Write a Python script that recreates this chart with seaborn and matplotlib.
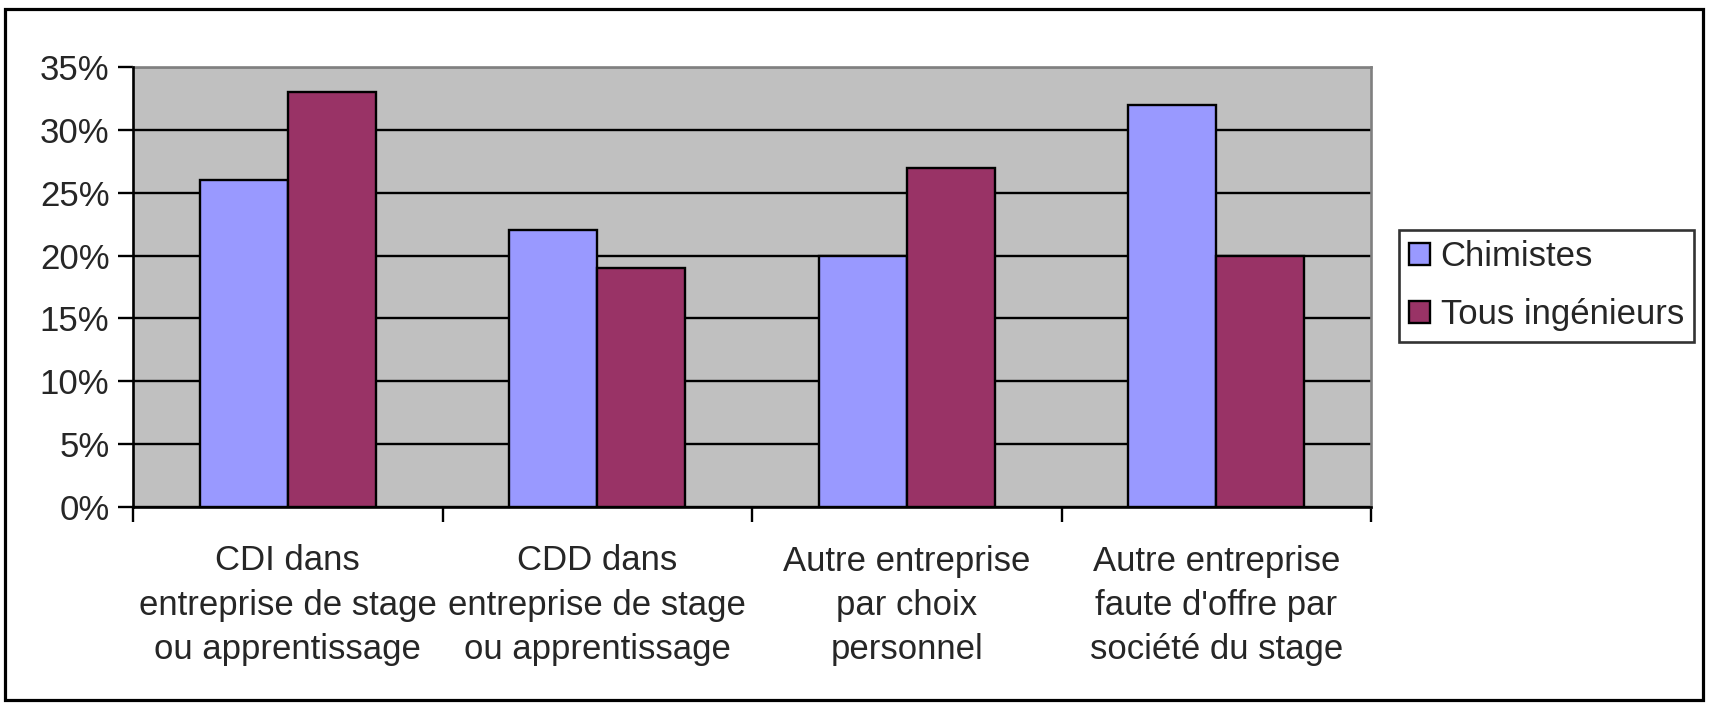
import pandas as pd
import matplotlib
matplotlib.use("Agg")
import matplotlib.pyplot as plt
from matplotlib.patches import Rectangle
from matplotlib.ticker import FixedLocator, PercentFormatter
import seaborn as sns

# --- Données ---
categories = [
    "CDI dans\nentreprise de stage\nou apprentissage",
    "CDD dans\nentreprise de stage\nou apprentissage",
    "Autre entreprise\npar choix\npersonnel",
    "Autre entreprise\nfaute d'offre par\nsociété du stage",
]
chimistes = [26, 22, 20, 32]
tous_ingenieurs = [33, 19, 27, 20]
series = ["Chimistes", "Tous ingénieurs"]
couleurs = ["#9999FF", "#993366"]
yticks = [0, 5, 10, 15, 20, 25, 30, 35]

df = pd.DataFrame({
    "categorie": categories * 2,
    "serie": [series[0]] * 4 + [series[1]] * 4,
    "valeur": chimistes + tous_ingenieurs,
})

sns.set_style("white")
plt.rcParams["font.family"] = ["Liberation Sans", "DejaVu Sans"]

W, H = 1709, 706
fig = plt.figure(figsize=(W / 100, H / 100), dpi=100)
ax = fig.add_axes([133 / W, 1 - 507 / H, (1371 - 133) / W, (507 - 67) / H])
ax.set_facecolor("#C0C0C0")

sns.barplot(data=df, x="categorie", y="valeur", hue="serie", order=categories,
            hue_order=series, palette=couleurs, width=0.57, edgecolor="black",
            linewidth=1.7, saturation=1, ax=ax, zorder=3)

ax.set_ylim(0, 35)
ax.set_xlim(-0.5, 3.5)
ax.yaxis.set_major_locator(FixedLocator(yticks))
ax.yaxis.set_major_formatter(PercentFormatter(decimals=0))
ax.grid(axis="y", color="black", linewidth=1.7, zorder=1)
ax.set_axisbelow(True)
ax.set_xlabel("")
ax.set_ylabel("")

# graduations de l'axe x entre les catégories
ax.xaxis.set_minor_locator(FixedLocator([-0.5, 0.5, 1.5, 2.5, 3.5]))
ax.tick_params(axis="x", which="major", length=0, pad=27, labelsize=25)
ax.tick_params(axis="x", which="minor", length=11, width=1.7, color="black", direction="out")
ax.tick_params(axis="y", length=11, width=1.7, color="black", direction="out", pad=6, labelsize=25)
ax.tick_params(bottom=True, left=True, which="both")
for lab in ax.get_xticklabels():
    lab.set_linespacing(1.43)

for s in ["left", "bottom"]:
    ax.spines[s].set_color("black")
    ax.spines[s].set_linewidth(1.9)
for s in ["top", "right"]:
    ax.spines[s].set_color("#808080")
    ax.spines[s].set_linewidth(1.9)
ax.spines["left"].set_zorder(5)
ax.spines["bottom"].set_zorder(5)

ax.get_legend().remove()
handles = [Rectangle((0, 0), 1, 1, facecolor=c, edgecolor="black", linewidth=1.7) for c in couleurs]
leg = fig.legend(handles, series, loc="center left", bbox_to_anchor=(1399 / W, 1 - 286 / H),
                 fontsize=25, frameon=True, fancybox=False, edgecolor="black",
                 handlelength=0.6, handleheight=0.6, handletextpad=0.3,
                 borderpad=0.3, labelspacing=0.72, borderaxespad=0)
leg.get_frame().set_linewidth(1.9)

# cadre extérieur du graphique
fig.patches.append(Rectangle((5 / W, 1 - 700 / H), (1703 - 5) / W, (700 - 9) / H,
                             transform=fig.transFigure, fill=False, edgecolor="black",
                             linewidth=2.3))

fig.savefig("out.png", dpi=100)
plt.close(fig)
